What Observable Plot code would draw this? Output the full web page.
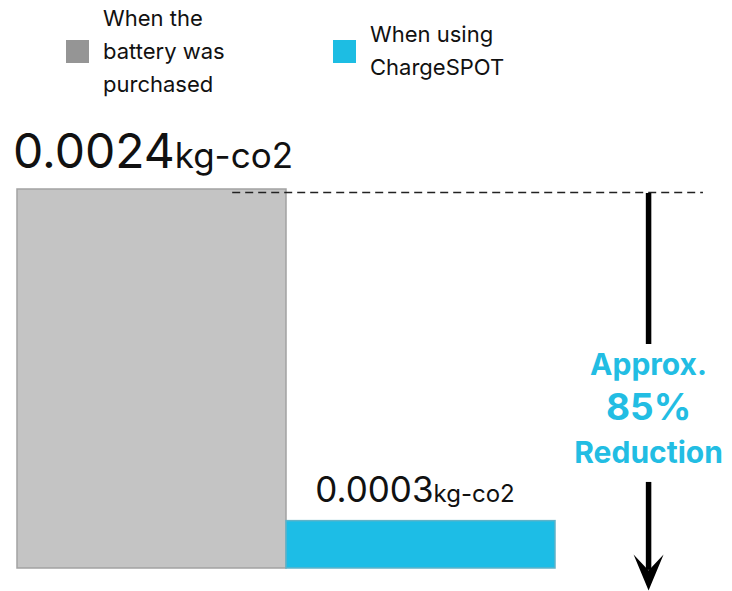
<!DOCTYPE html>
<html>
<head>
<meta charset="utf-8">
<script src="https://cdn.jsdelivr.net/npm/d3@7"></script>
<script src="https://cdn.jsdelivr.net/npm/@observablehq/plot@0.6"></script>
<style>
  body { margin: 0; background: #fff; font-family: Inter, "Noto Sans", sans-serif; }
  #page { position: relative; width: 732px; height: 591px; overflow: hidden; }
  #legend { position: relative; height: 110px; }
  .item { position: absolute; top: 1px; height: 100px; display: flex; align-items: center; gap: 14px; }
  .swatch { width: 23px; height: 23px; flex: none; }
  .label { font-size: 22px; line-height: 33px; color: #111; white-space: pre-line; }
  #chart svg { display: block; }
</style>
</head>
<body>
<div id="page">
  <div id="legend"></div>
  <div id="chart"></div>
</div>
<script>
// CO2 emitted per charge, by way of getting a charged battery
const categories = ["When the battery was purchased", "When using ChargeSPOT"];
const values = [0.0024, 0.0003];
const unit = "kg-co2";
const barColors = ["#c4c4c4", "#1dbde6"];
const barStrokes = ["#a2a2a2", "#5fb3c9"];

// Legend
const legendLabels = ["When the\nbattery was\npurchased", "When using\nChargeSPOT"];
const legendColors = ["#959595", "#1dbde3"];
const legendLefts = [66, 333];

// Reduction callout
const reductionLines = ["Approx.", "85%", "Reduction"];
const accent = "#22bde3";

const legend = document.getElementById("legend");
legendLabels.forEach((label, i) => {
  const item = document.createElement("div");
  item.className = "item";
  item.style.left = legendLefts[i] + "px";
  const sw = document.createElement("div");
  sw.className = "swatch";
  sw.style.background = legendColors[i];
  const tx = document.createElement("div");
  tx.className = "label";
  tx.textContent = label;
  item.append(sw, tx);
  legend.append(item);
});

const data = categories.map((category, i) => ({category, value: values[i], index: i}));
const topValue = d3.max(values);

// Annotation layout (in data units along y, bar slots along x)
const arrowX = 2.346;
const gapTop = 0.001444;
const gapBottom = 0.000545;
const tipValue = -0.000139;
const notchValue = tipValue + 0.000127;
const calloutY = 0.000931;

// Filled, notched arrowhead with its tip at the origin, pointing down
const arrowHead = {
  draw(ctx) {
    ctx.moveTo(0, 0);
    ctx.lineTo(-15, -36);
    ctx.lineTo(0, -20);
    ctx.lineTo(15, -36);
    ctx.closePath();
  }
};

// Appends the unit in a smaller size after the value text
function withUnit(size) {
  return (index, scales, values, dims, context, next) => {
    const g = next(index, scales, values, dims, context);
    d3.select(g).selectAll("text").append("tspan").attr("font-size", size).text(unit);
    return g;
  };
}

// Callout line sizes and spacing (px)
const calloutSizes = [30, 37, 30];
const calloutShifts = [-26, 45, 43];

const chart = Plot.plot({
  width: 732,
  height: 481,
  marginLeft: 17,
  marginRight: 15.6,
  marginTop: 79,
  marginBottom: 23,
  style: {fontFamily: "Inter, 'Noto Sans', sans-serif", background: "#fff"},
  x: {domain: [0, 2.6], axis: null},
  y: {domain: [0, topValue], axis: null},
  color: {type: "identity"},
  marks: [
    Plot.rectY(data, {
      x1: "index",
      x2: d => d.index + 1,
      y: "value",
      fill: d => barColors[d.index],
      stroke: d => barStrokes[d.index],
      strokeWidth: 1.5
    }),
    Plot.ruleY([topValue], {x1: 0.8, x2: 2.55, dy: 3, stroke: "#222", strokeWidth: 1.5, strokeDasharray: "8,5"}),
    Plot.ruleX([arrowX], {y1: topValue, y2: gapTop, dy: 4, stroke: "#000", strokeWidth: 5.5}),
    Plot.ruleX([arrowX], {y1: gapBottom, y2: notchValue, stroke: "#000", strokeWidth: 5.5}),
    Plot.dot([arrowX], {x: d => d, y: tipValue, symbol: arrowHead, fill: "#000", stroke: "none"}),
    Plot.text(data.filter(d => d.index === 0), {
      x: d => d.index + 0.5,
      y: "value",
      text: d => String(d.value),
      textAnchor: "middle",
      lineAnchor: "bottom",
      dy: -22,
      dx: 1,
      fontSize: 48,
      fill: "#111",
      render: withUnit(35)
    }),
    Plot.text(data.filter(d => d.index === 1), {
      x: d => d.index + 0.5,
      y: "value",
      text: d => String(d.value),
      textAnchor: "middle",
      lineAnchor: "bottom",
      dy: -19,
      dx: -6,
      fontSize: 35,
      fill: "#111",
      render: withUnit(24)
    }),
    Plot.text([reductionLines.join("\n")], {
      x: arrowX,
      y: calloutY,
      text: d => d,
      textAnchor: "middle",
      lineAnchor: "middle",
      fontSize: 30,
      fontWeight: 700,
      fill: accent,
      render: (index, scales, values, dims, context, next) => {
        const g = next(index, scales, values, dims, context);
        const text = d3.select(g).select("text").attr("dy", null).attr("y", null);
        text.selectAll("tspan")
          .attr("font-size", (d, i) => calloutSizes[i])
          .attr("dy", (d, i) => calloutShifts[i] + "px");
        return g;
      }
    })
  ]
});

document.getElementById("chart").append(chart);
</script>
</body>
</html>
